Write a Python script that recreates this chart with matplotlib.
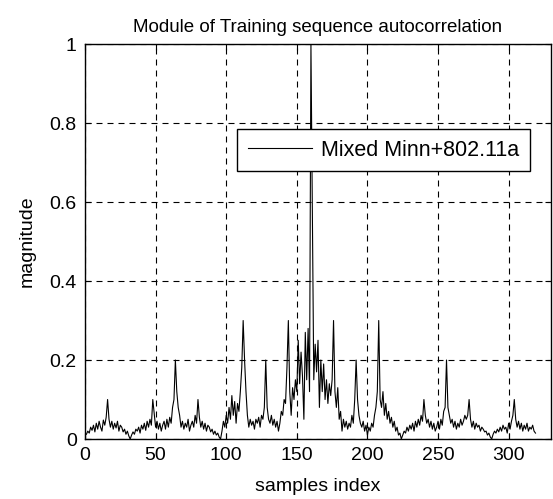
import numpy as np
import matplotlib.pyplot as plt

# autocorrelation magnitude, samples 1..319
mag_1_64 = [0.012, 0.020, 0.015, 0.030, 0.022, 0.035, 0.018, 0.040, 0.025, 0.045, 0.030, 0.020, 0.048, 0.035, 0.055, 0.100,
            0.050, 0.030, 0.045, 0.025, 0.040, 0.028, 0.045, 0.020, 0.035, 0.030, 0.018, 0.025, 0.012, 0.020, 0.008, 0.000,
            0.010, 0.018, 0.012, 0.025, 0.020, 0.030, 0.015, 0.035, 0.025, 0.040, 0.022, 0.045, 0.030, 0.050, 0.035, 0.100,
            0.065, 0.030, 0.045, 0.025, 0.040, 0.020, 0.035, 0.045, 0.025, 0.050, 0.030, 0.055, 0.040, 0.080, 0.100, 0.200]
mag_65_128 = [0.120, 0.080, 0.060, 0.030, 0.045, 0.025, 0.040, 0.030, 0.050, 0.020, 0.035, 0.045, 0.030, 0.060, 0.040, 0.100,
              0.055, 0.030, 0.045, 0.025, 0.040, 0.020, 0.035, 0.030, 0.018, 0.025, 0.012, 0.020, 0.010, 0.015, 0.005, 0.000,
              0.020, 0.045, 0.030, 0.060, 0.040, 0.080, 0.050, 0.110, 0.060, 0.095, 0.040, 0.090, 0.070, 0.120, 0.180, 0.300,
              0.200, 0.120, 0.060, 0.030, 0.050, 0.035, 0.045, 0.025, 0.050, 0.040, 0.055, 0.030, 0.060, 0.050, 0.080, 0.200]
mag_129_192 = [0.080, 0.050, 0.040, 0.060, 0.035, 0.050, 0.030, 0.045, 0.020, 0.040, 0.070, 0.060, 0.100, 0.090, 0.180, 0.300,
               0.120, 0.060, 0.130, 0.100, 0.150, 0.120, 0.250, 0.140, 0.220, 0.160, 0.050, 0.270, 0.150, 0.280, 0.120, 1.000,
               0.590, 0.150, 0.240, 0.170, 0.250, 0.080, 0.200, 0.120, 0.190, 0.100, 0.150, 0.090, 0.140, 0.110, 0.150, 0.300,
               0.120, 0.080, 0.130, 0.050, 0.070, 0.020, 0.050, 0.030, 0.045, 0.025, 0.040, 0.030, 0.060, 0.040, 0.100, 0.200]
mag_193_256 = [0.100, 0.060, 0.040, 0.030, 0.045, 0.020, 0.035, 0.010, 0.030, 0.020, 0.040, 0.030, 0.060, 0.080, 0.120, 0.300,
               0.100, 0.080, 0.120, 0.060, 0.090, 0.050, 0.070, 0.040, 0.055, 0.030, 0.045, 0.020, 0.030, 0.010, 0.015, 0.000,
               0.010, 0.020, 0.015, 0.030, 0.020, 0.035, 0.025, 0.040, 0.020, 0.045, 0.030, 0.050, 0.035, 0.060, 0.045, 0.100,
               0.060, 0.040, 0.050, 0.030, 0.045, 0.025, 0.040, 0.020, 0.030, 0.045, 0.025, 0.050, 0.035, 0.070, 0.080, 0.200]
mag_257_319 = [0.080, 0.060, 0.040, 0.050, 0.030, 0.045, 0.025, 0.040, 0.030, 0.050, 0.035, 0.045, 0.060, 0.050, 0.060, 0.100,
               0.050, 0.030, 0.045, 0.025, 0.040, 0.030, 0.035, 0.020, 0.030, 0.025, 0.018, 0.020, 0.010, 0.015, 0.005, 0.000,
               0.012, 0.020, 0.015, 0.025, 0.018, 0.030, 0.020, 0.035, 0.025, 0.030, 0.015, 0.040, 0.025, 0.045, 0.060, 0.100,
               0.050, 0.030, 0.045, 0.025, 0.040, 0.020, 0.035, 0.025, 0.040, 0.020, 0.030, 0.025, 0.035, 0.020, 0.015]

xticks = [0, 50, 100, 150, 200, 250, 300]
yticks = [0, 0.2, 0.4, 0.6, 0.8, 1]
ytick_labels = ['0', '0.2', '0.4', '0.6', '0.8', '1']

mag = np.array(mag_1_64 + mag_65_128 + mag_129_192 + mag_193_256 + mag_257_319)
idx = np.arange(1, len(mag) + 1)

plt.rcParams['font.family'] = ['Liberation Sans', 'DejaVu Sans']
plt.rcParams['font.size'] = 14

fig = plt.figure(figsize=(5.53, 4.99), dpi=100)
ax = fig.add_axes([0.1537, 0.1202, 0.8427, 0.7916])

ax.plot(idx, mag, color='black', lw=0.8, label='Mixed Minn+802.11a')

ax.set_xlim(0, 330)
ax.set_ylim(0, 1)
ax.set_xticks(xticks)
ax.set_yticks(yticks)
ax.set_yticklabels(ytick_labels)
ax.grid(True, color='black', lw=0.8, linestyle=(0, (5.4, 4.5)))
ax.tick_params(direction='in', top=True, right=True, length=4, width=0.8, pad=6)
for s in ax.spines.values():
    s.set_linewidth(1.0)

ax.set_title('Module of Training sequence autocorrelation', pad=9, fontsize=13.5)
ax.set_xlabel('samples index', labelpad=10)
ax.set_ylabel('magnitude', labelpad=10)

leg = ax.legend(loc='upper left', bbox_to_anchor=(0.326, 0.785), borderaxespad=0,
                fancybox=False, framealpha=1, edgecolor='black', fontsize=15.5,
                handlelength=3.0, handletextpad=0.4, borderpad=0.5)
leg.get_frame().set_linewidth(1.0)

plt.savefig('out.png', dpi=100)
